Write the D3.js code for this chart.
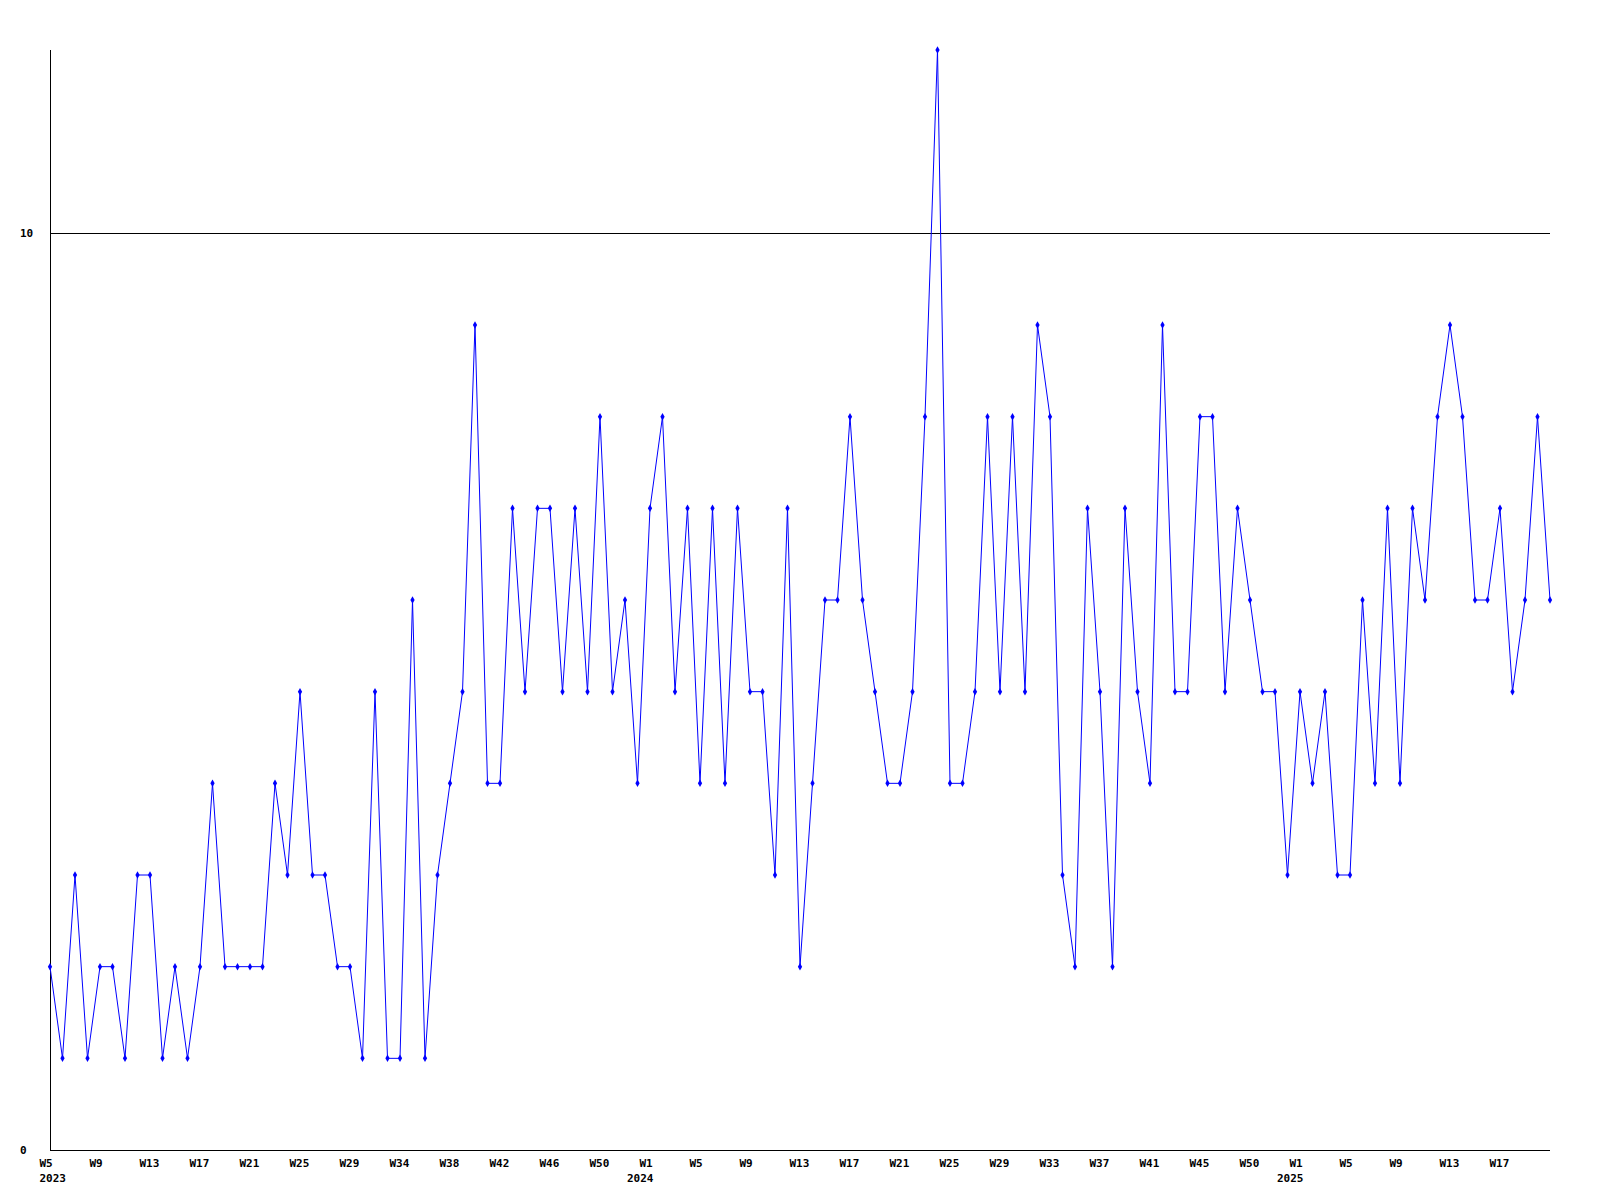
<!DOCTYPE html>
<html>
<head>
<meta charset="utf-8">
<script src="https://cdn.jsdelivr.net/npm/d3@7"></script>
<style>
  html, body { margin: 0; padding: 0; background: #fff; }
  svg { display: block; }
  text { font-family: "DejaVu Sans Mono", "Liberation Mono", monospace; font-size: 11px; font-weight: bold; fill: #000; }
</style>
</head>
<body>
<svg id="chart" width="1600" height="1200"></svg>
<script>
// Weekly values, 2023 W5 .. 2025 W21 (121 weeks)
const values = [
  2, 1, 3, 1, 2, 2, 1, 3, 3, 1,
  2, 1, 2, 4, 2, 2, 2, 2, 4, 3,
  5, 3, 3, 2, 2, 1, 5, 1, 1, 6,
  1, 3, 4, 5, 9, 4, 4, 7, 5, 7,
  7, 5, 7, 5, 8, 5, 6, 4, 7, 8,
  5, 7, 4, 7, 4, 7, 5, 5, 3, 7,
  2, 4, 6, 6, 8, 6, 5, 4, 4, 5,
  8, 12, 4, 4, 5, 8, 5, 8, 5, 9,
  8, 3, 2, 7, 5, 2, 7, 5, 4, 9,
  5, 5, 8, 8, 5, 7, 6, 5, 5, 3,
  5, 4, 5, 3, 3, 6, 4, 7, 4, 7,
  6, 8, 9, 8, 6, 6, 7, 5, 6, 8,
  6
];
// Tick labels placed every 4th week (index = 4*k)
const weekTickLabels = [
  "W5", "W9", "W13", "W17", "W21", "W25", "W29", "W34", "W38", "W42",
  "W46", "W50", "W1", "W5", "W9", "W13", "W17", "W21", "W25", "W29",
  "W33", "W37", "W41", "W45", "W50", "W1", "W5", "W9", "W13", "W17"
];
const yearTickIndex = [0, 48, 100];
const yearTickLabels = ["2023", "2024", "2025"];
const yTickValues = [0, 10];
const yTickLabels = ["0", "10"];

const svg = d3.select("#chart");
const mLeft = 50, mRight = 1550, mTop = 50, mBottom = 1150;

const x = d3.scaleLinear().domain([0, values.length - 1]).range([mLeft, mRight]);
const y = d3.scaleLinear().domain([0, 12]).range([mBottom, mTop]);

// grid line at 10
svg.append("g").selectAll("line").data(yTickValues.filter(v => v > 0)).join("line")
  .attr("x1", mLeft).attr("x2", mRight)
  .attr("y1", d => Math.round(y(d)) + 0.5).attr("y2", d => Math.round(y(d)) + 0.5)
  .attr("stroke", "#000").attr("stroke-width", 1).attr("shape-rendering", "crispEdges");

// axes
svg.append("line").attr("x1", mLeft + 0.5).attr("x2", mLeft + 0.5).attr("y1", mTop).attr("y2", mBottom + 0.5)
  .attr("stroke", "#000").attr("shape-rendering", "crispEdges");
svg.append("line").attr("x1", mLeft).attr("x2", mRight).attr("y1", mBottom + 0.5).attr("y2", mBottom + 0.5)
  .attr("stroke", "#000").attr("shape-rendering", "crispEdges");

// y labels
svg.append("g").selectAll("text").data(yTickValues).join("text")
  .attr("x", 20).attr("y", d => y(d)).attr("dy", "0.35em")
  .text((d, i) => yTickLabels[i]);

// x week labels
svg.append("g").selectAll("text").data(weekTickLabels).join("text")
  .attr("x", (d, i) => x(i * 4) - 10.5).attr("y", 1163).attr("dy", "0.35em")
  .text(d => d);

// year labels
svg.append("g").selectAll("text").data(yearTickIndex).join("text")
  .attr("x", d => Math.max(x(d) - 23, x(0) - 10.5)).attr("y", 1178.5).attr("dy", "0.35em")
  .text((d, i) => yearTickLabels[i]);

// line
const line = d3.line().x((d, i) => x(i)).y(d => y(d));
svg.append("path").datum(values)
  .attr("d", line).attr("fill", "none").attr("stroke", "#0000ff").attr("stroke-width", 1);

// markers
svg.append("g").selectAll("path").data(values).join("path")
  .attr("transform", (d, i) => `translate(${x(i)},${y(d)})`)
  .attr("d", d3.symbol(d3.symbolDiamond, 16))
  .attr("fill", "#0000ff");
</script>
</body>
</html>
